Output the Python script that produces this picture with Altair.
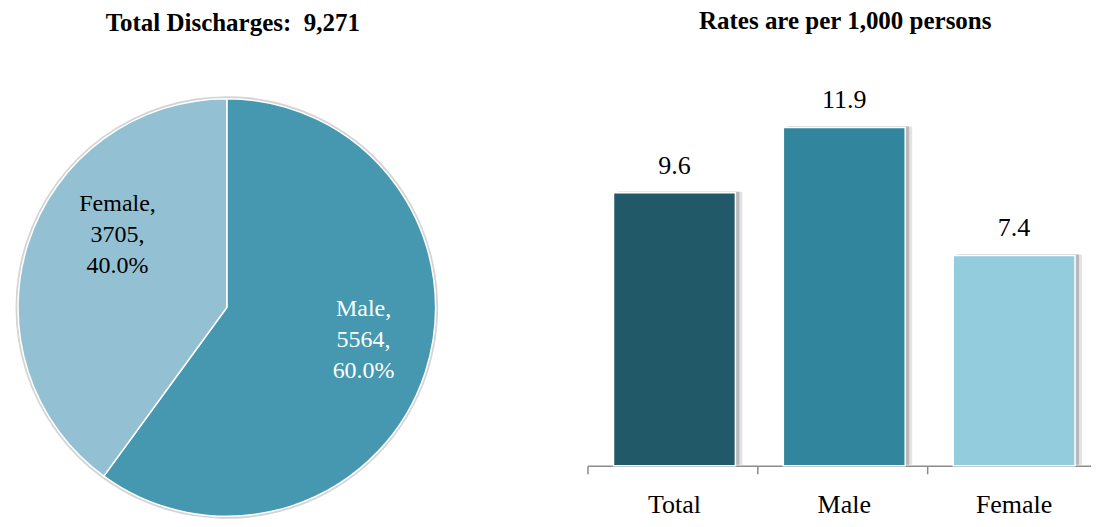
import altair as alt
import pandas as pd

# ---- data ----
pie_categories = ["Male", "Female"]
pie_counts = [5564, 3705]
pie_percents = ["60.0%", "40.0%"]
pie_colors = ["#4598AF", "#93C1D3"]
pie_label_colors = ["white", "black"]

bar_categories = ["Total", "Male", "Female"]
bar_rates = [9.6, 11.9, 7.4]
bar_colors = ["#215968", "#31859C", "#93CDDD"]

pie_title = "Total Discharges:\u00a0 9,271"
bar_title = "Rates are per 1,000 persons"

FONT = "Liberation Serif"

pie_df = pd.DataFrame({
    "cat": pie_categories,
    "count": pie_counts,
    "order": list(range(len(pie_categories))),
    "label": [f"{c},\n{n},\n{p}" for c, n, p in zip(pie_categories, pie_counts, pie_percents)],
    "lcolor": pie_label_colors,
})

bar_df = pd.DataFrame({"cat": bar_categories, "rate": bar_rates})

theta = alt.Theta("count:Q", stack=True)
order = alt.Order("order:Q")

pie_shadow = alt.Chart(pie_df).mark_arc(outerRadius=211.5, color="#d4d4d4").encode(
    theta=theta, order=order)
pie = alt.Chart(pie_df).mark_arc(outerRadius=209, stroke="white", strokeWidth=1.5).encode(
    theta=theta, order=order,
    color=alt.Color("cat:N", scale=alt.Scale(domain=pie_categories, range=pie_colors), legend=None),
)


def pie_label(cat, radius, dy):
    return alt.Chart(pie_df).transform_joinaggregate(
        total="sum(count)"
    ).transform_window(
        cum="sum(count)", sort=[alt.SortField("order")], frame=[None, 0]
    ).transform_calculate(
        mid="(datum.cum - datum.count / 2) / datum.total * 2 * PI"
    ).transform_filter(
        alt.datum.cat == cat
    ).mark_text(
        radius=radius, dy=dy, font=FONT, fontSize=24, lineBreak="\n", lineHeight=31,
        align="center", baseline="middle"
    ).encode(
        theta=alt.Theta("mid:Q", scale=None), text="label:N",
        color=alt.Color("lcolor:N", scale=None),
    )


pie_panel = alt.layer(
    pie_shadow, pie, pie_label("Female", 115, -68), pie_label("Male", 144, -43)
).properties(
    width=438, height=423,
    title=alt.TitleParams(pie_title, font=FONT, fontSize=25, fontWeight="bold", offset=60,
                          dx=6, color="black"),
)

xenc = alt.X("cat:N", sort=bar_categories,
             scale=alt.Scale(paddingInner=0.2824, paddingOuter=0.1237, align=0.62),
             axis=alt.Axis(title=None, labelAngle=0, labelFont=FONT, labelFontSize=26,
                           labelColor="black", labelPadding=18, tickSize=8, tickColor="#8c8c8c",
                           domainColor="#8c8c8c", domainWidth=1.5, tickWidth=1.5,
                           bandPosition=-0.213, grid=False))
yenc = alt.Y("rate:Q", scale=alt.Scale(domain=[0, 13]), axis=None)

bar_shadow_far = alt.Chart(bar_df).mark_bar(color="#e3e3e3", xOffset=7, yOffset=-1).encode(x=xenc, y=yenc)
bar_shadow = alt.Chart(bar_df).mark_bar(color="#b8b8b8", xOffset=4, yOffset=-1).encode(x=xenc, y=yenc)
bars = alt.Chart(bar_df).mark_bar(stroke="white", strokeWidth=1.5).encode(
    x=xenc, y=yenc,
    color=alt.Color("cat:N", scale=alt.Scale(domain=bar_categories, range=bar_colors), legend=None),
)
bar_text = alt.Chart(bar_df).mark_text(
    font=FONT, fontSize=26, baseline="alphabetic", dy=-19, color="black"
).encode(x=xenc, y=yenc, text=alt.Text("rate:Q", format=".1f"))

bar_panel = alt.layer(bar_shadow_far, bar_shadow, bars, bar_text).properties(
    width=504, height=370,
    title=alt.TitleParams(bar_title, font=FONT, fontSize=25, fontWeight="bold", offset=54,
                          dx=6, color="black"),
)

chart = alt.hconcat(pie_panel, bar_panel, spacing=141).resolve_scale(color="independent").properties(
    padding=0
).configure_view(stroke=None)

chart.save("out.html", embed_options={"renderer": "svg", "actions": False})
